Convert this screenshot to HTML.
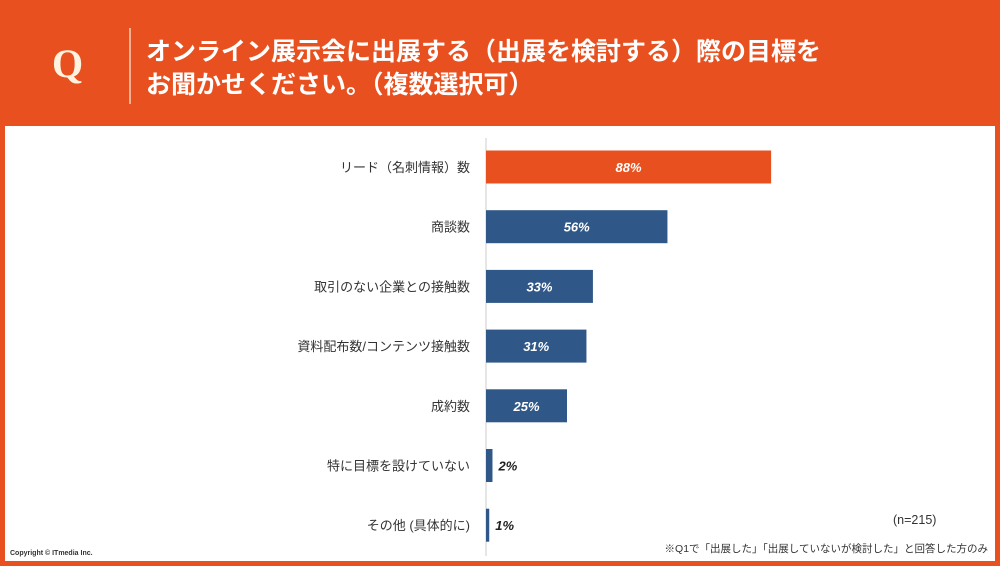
<!DOCTYPE html>
<html><head><meta charset="utf-8"><style>
body{margin:0;width:1000px;height:566px;overflow:hidden;background:#e8501f;font-family:"Liberation Sans","Noto Sans CJK JP",sans-serif}
#frame{position:absolute;left:0;top:0;width:1000px;height:566px;background:#e8501f}
#inner{position:absolute;left:5px;top:126px;width:990px;height:435px;background:#fff}
#q{position:absolute;left:52px;top:40px;color:#fff3e0;font-family:"Liberation Serif",serif;font-weight:bold;font-size:40px}
#sep{position:absolute;left:129px;top:28px;width:2px;height:76px;background:#f5b08f}
#title{position:absolute;left:146px;top:36px;color:#fff;font-weight:bold;font-size:25px;line-height:33px}
svg text{font-family:"Liberation Sans","Noto Sans CJK JP",sans-serif}
</style></head><body>
<div id="frame">
<div id="q">Q</div>
<div id="sep"></div>
<div id="title">オンライン展示会に出展する（出展を検討する）際の目標を<br>お聞かせください。（複数選択可）</div>
<div id="inner"></div>
<svg id="chart" width="1000" height="566" style="position:absolute;left:0;top:0"></svg>
</div>
<script>
const categories=["リード（名刺情報）数","商談数","取引のない企業との接触数","資料配布数/コンテンツ接触数","成約数","特に目標を設けていない","その他 (具体的に)"];
const values=[88,56,33,31,25,2,1];
const valueLabels=["88%","56%","33%","31%","25%","2%","1%"];
const NS="http://www.w3.org/2000/svg";
const svg=document.getElementById('chart');
const x0=486,pxPer=3.24,top0=167,step=59.7,bh=33;
const xs=v=>x0+v*pxPer;
const ys=i=>top0+i*step;
function mk(t,a){const e=document.createElementNS(NS,t);for(const k in a)e.setAttribute(k,a[k]);svg.appendChild(e);return e;}
const ax=mk('line',{x1:x0,x2:x0,y1:138,y2:556,stroke:'#ccc','stroke-width':1});


categories.forEach((c,i)=>{
 const y=ys(i);
 const r=mk('rect',{x:x0,y:y-bh/2,width:Math.max(xs(values[i])-x0,2),height:bh,fill:i===0?'#e8501f':'#2f5787'});
 
 
 const l=mk('text',{x:470,y:y+5,'text-anchor':'end','font-size':13,fill:'#333'});
 l.textContent=c;
 
 
 const inside=values[i]>=10;
 const v=mk('text',{x:inside?(x0+xs(values[i]))/2:xs(values[i])+6,y:y+5,'text-anchor':inside?'middle':'start','font-size':13,'font-weight':'bold','font-style':'italic',fill:inside?'#fff':'#222'});
 v.textContent=valueLabels[i];
 
 
});
const n=mk('text',{x:893,y:524,'font-size':12.5,fill:'#333'});n.textContent='(n=215)';


const f=mk('text',{x:988,y:552,'text-anchor':'end','font-size':10.5,fill:'#333'});f.textContent='※Q1で「出展した」「出展していないが検討した」と回答した方のみ';


const cp=mk('text',{x:10,y:555,'font-size':7,fill:'#333','font-weight':'bold'});cp.textContent='Copyright © ITmedia Inc.';


</script>
</body></html>
